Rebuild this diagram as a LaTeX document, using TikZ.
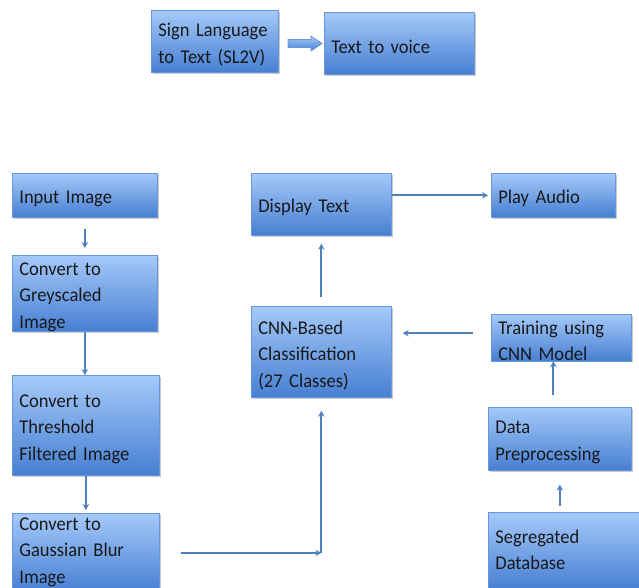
\documentclass[tikz,border=0pt]{standalone}
\usepackage{fontspec}
\setmainfont{Carlito}[FakeStretch=0.95,WordSpace=0.75]
\usetikzlibrary{shadows,arrows.meta,calc}
\definecolor{boxtop}{RGB}{165,201,249}
\definecolor{boxbot}{RGB}{70,127,210}
\definecolor{boxline}{RGB}{105,150,218}
\definecolor{arr}{RGB}{79,129,189}
\begin{document}
\begin{tikzpicture}[x=1pt,y=-1pt,
  box/.style={rectangle, draw=boxline, line width=0.7pt, top color=boxtop, bottom color=boxbot,
    anchor=north west, inner xsep=7pt, inner ysep=0pt, align=left, text height=20pt,
    font=\fontsize{19.5}{26.5}\selectfont, text=black!90,
    drop shadow={shadow xshift=1.5pt, shadow yshift=-1.5pt, opacity=0.35, fill=black!60}},
  conn/.style={draw=arr, line width=1.8pt, -{Stealth[length=6pt,width=6.5pt]}}]
\useasboundingbox (0,0) rectangle (639,588);
\clip (0,0) rectangle (639,588);

% top row
\node[box,text width=113pt,minimum height=62pt] (sl) at (151,10) {Sign Language\\to Text (SL2V)};
\node[box,text width=136pt,minimum height=62pt] (tv) at (324,12) {Text to voice};
\filldraw[draw=boxline, line width=0.6pt, top color=boxtop, bottom color=boxbot]
  (288,39.5) -- (311,39.5) -- (311,36) -- (322,43.5) -- (311,51) -- (311,47.5) -- (288,47.5) -- cycle;

% left column
\node[box,text width=131pt,minimum height=44pt] (inp) at (12,173) {Input Image};
\node[box,text width=131pt,minimum height=76pt] (grey) at (12,255) {Convert to\\Greyscaled\\Image};
\node[box,text width=133pt,minimum height=100pt] (thr) at (12,375) {Convert to\\Threshold\\Filtered Image};
\node[box,text width=133pt,minimum height=79pt,text height=11pt] (gau) at (12,513) {Convert to\\Gaussian Blur\\Image};

% middle column
\node[box,text width=126pt,minimum height=62pt] (disp) at (251,173) {Display Text};
\node[box,text width=126pt,minimum height=91pt] (cnn) at (251,306) {CNN-Based\\Classification\\(27 Classes)};

% right column
\node[box,text width=110pt,minimum height=44pt] (play) at (491,173) {Play Audio};
\node[box,text width=126pt,minimum height=45pt] (train) at (491,314) {Training using\\CNN Model};
\node[box,text width=129pt,minimum height=63pt] (data) at (488,407) {Data\\Preprocessing};
\node[box,text width=143pt,minimum height=78pt,text height=10.5pt] (seg) at (488,512) {Segregated\\Database};

% connectors
\draw[conn, shorten <=11pt, shorten >=7pt] (inp.south) -- (grey.north);
\draw[conn] (grey.south) -- (grey.south |- thr.north);
\draw[conn, shorten >=3pt] (thr.south) -- (thr.south |- gau.north);
\coordinate (corner) at (cnn.south |- gau.east);
\draw[conn, shorten <=21pt] (gau.east) -- (corner);
\draw[conn, shorten >=13pt] (corner) -- (cnn.south);
\draw[conn, shorten <=9pt, shorten >=8pt] (cnn.north) -- (disp.south);
\draw[conn, shorten >=3pt] (disp.east |- play.west) -- (play.west);
\draw[conn, shorten <=18pt, shorten >=11pt] ([yshift=4.5pt]train.west) -- ([yshift=4.5pt]train.west -| cnn.east);
\draw[conn, shorten <=12pt] ([xshift=-6.5pt]data.north) -- ([xshift=-6.5pt]data.north |- train.south);
\draw[conn, shorten <=6pt, shorten >=14pt] (data.south |- seg.north) -- (data.south);
\end{tikzpicture}
\end{document}
